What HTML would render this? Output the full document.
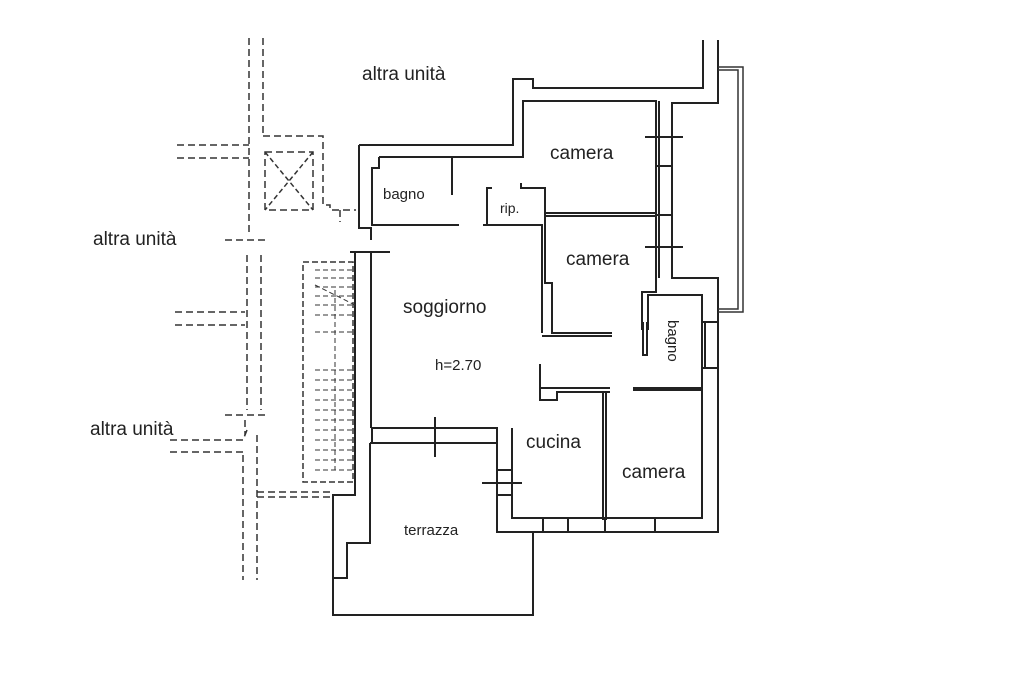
<!DOCTYPE html>
<html><head><meta charset="utf-8"><style>
html,body{margin:0;padding:0;background:#fff;}
svg{display:block;}
text{font-family:"Liberation Sans",sans-serif;fill:#222;}
</style></head><body>
<svg width="1024" height="682" viewBox="0 0 1024 682" xmlns="http://www.w3.org/2000/svg">
<g fill="none" stroke="#222" stroke-width="2" stroke-linejoin="miter">
<!-- outer top wall -->
<polyline points="359,145 513,145 513,79 533,79 533,88 703,88 703,40"/>
<polyline points="718,40 718,103 672,103 672,278 718,278 718,532 533,532"/>
<polyline points="523,158 523,101 656,101 656,278"/>
<polyline points="379,157 523,157"/>
<!-- left main wall -->
<polyline points="359,145 359,228 371,228 371,240"/>
<polyline points="355,252 371,252 371,428"/>
<polyline points="355,252 355,495 333,495 333,578 347,578 347,543 370,543 370,443"/>
<!-- terrace -->
<polyline points="333,578 333,615 533,615 533,532 497,532 497,428 372,428"/>
<polyline points="370,443 497,443"/>
<line x1="372" y1="428" x2="372" y2="443"/>
<!-- bagno -->
<polyline points="379,157 379,168 372,168 372,225 459,225"/>
<line x1="423" y1="157" x2="379" y2="157"/>
<line x1="452" y1="157" x2="452" y2="195"/>
<!-- rip -->
<polyline points="492,188 487,188 487,225 483,225 543,225"/>
<polyline points="521,183 521,188 545,188 545,225"/>
<line x1="545" y1="213" x2="656" y2="213"/>
<line x1="545" y1="216" x2="656" y2="216"/>
<!-- camera 2 left wall -->
<polyline points="542,225 542,333"/>
<polyline points="545,225 545,283 552,283 552,333 612,333"/>
<line x1="542" y1="336" x2="612" y2="336"/>
<!-- right camera windows -->
<line x1="659" y1="101" x2="659" y2="278"/>
<line x1="656" y1="166" x2="672" y2="166"/>
<line x1="656" y1="215" x2="672" y2="215"/>
<line x1="645" y1="137" x2="683" y2="137"/>
<line x1="645" y1="247" x2="683" y2="247"/>
<!-- bagno 2 -->
<polyline points="656,278 656,292 642,292 642,330"/>
<polyline points="648,330 648,295 702,295 702,388 633,388"/>
<polyline points="643,322 643,355 647,355 647,322"/>
<line x1="702" y1="322" x2="718" y2="322"/>
<line x1="702" y1="368" x2="718" y2="368"/>
<line x1="705" y1="322" x2="705" y2="368"/>
<!-- cucina / camera -->
<polyline points="540,364 540,400 557,400 557,392 610,392"/>
<line x1="540" y1="388" x2="610" y2="388"/>
<line x1="603" y1="393" x2="603" y2="520"/>
<line x1="606" y1="393" x2="606" y2="520"/>
<polyline points="633,390 702,390 702,518 512,518 512,428"/>
<line x1="496" y1="470" x2="512" y2="470"/>
<line x1="496" y1="495" x2="512" y2="495"/>
<line x1="543" y1="518" x2="543" y2="532"/>
<line x1="568" y1="518" x2="568" y2="532"/>
<line x1="605" y1="518" x2="605" y2="532"/>
<line x1="655" y1="518" x2="655" y2="532"/>
<!-- window ticks -->
<line x1="435" y1="417" x2="435" y2="457"/>
<line x1="482" y1="483" x2="522" y2="483"/>
<line x1="350" y1="252" x2="390" y2="252"/>
</g>
<!-- right balcony thin frame -->
<g fill="none" stroke="#333" stroke-width="1.5">
<polyline points="718,67 743,67 743,312 718,312"/>
<polyline points="718,70 738,70 738,309 718,309"/>
</g>
<!-- dashed neighbouring -->
<g fill="none" stroke="#333" stroke-width="1.5" stroke-dasharray="7,4">
<line x1="249" y1="38" x2="249" y2="235"/>
<line x1="263" y1="38" x2="263" y2="135"/>
<polyline points="177,145 249,145"/>
<polyline points="177,158 249,158"/>
<polyline points="263,136 323,136 323,205 330,205 330,210 356,210"/>
<rect x="265" y="152" width="48" height="58"/>
<line x1="265" y1="152" x2="313" y2="210" stroke-dasharray="5,3"/>
<line x1="313" y1="152" x2="265" y2="210" stroke-dasharray="5,3"/>
<line x1="340" y1="210" x2="340" y2="222"/>
<line x1="225" y1="240" x2="267" y2="240"/>
<line x1="247" y1="255" x2="247" y2="410"/>
<line x1="261" y1="255" x2="261" y2="410"/>
<line x1="175" y1="312" x2="245" y2="312"/>
<line x1="175" y1="325" x2="245" y2="325"/>
<line x1="225" y1="415" x2="267" y2="415"/>
<line x1="245" y1="420" x2="245" y2="435"/>
<polyline points="170,440 243,440 247,430"/>
<line x1="170" y1="452" x2="243" y2="452"/>
<line x1="243" y1="455" x2="243" y2="580"/>
<line x1="257" y1="435" x2="257" y2="580"/>
<line x1="257" y1="497" x2="333" y2="497"/>
<line x1="257" y1="492" x2="333" y2="492"/>
<!-- stairs -->
<rect x="303" y="262" width="50" height="220" stroke-dasharray="6,3"/>
</g>
<g stroke="#333" stroke-width="1" stroke-dasharray="5,3">
<line x1="315" y1="270" x2="355" y2="270"/>
<line x1="315" y1="278" x2="355" y2="278"/>
<line x1="315" y1="287" x2="355" y2="287"/>
<line x1="315" y1="296" x2="355" y2="296"/>
<line x1="315" y1="305" x2="355" y2="305"/>
<line x1="315" y1="315" x2="355" y2="315"/>
<line x1="315" y1="332" x2="355" y2="332"/>
<line x1="315" y1="370" x2="355" y2="370"/>
<line x1="315" y1="380" x2="355" y2="380"/>
<line x1="315" y1="390" x2="355" y2="390"/>
<line x1="315" y1="400" x2="355" y2="400"/>
<line x1="315" y1="410" x2="355" y2="410"/>
<line x1="315" y1="420" x2="355" y2="420"/>
<line x1="315" y1="430" x2="355" y2="430"/>
<line x1="315" y1="440" x2="355" y2="440"/>
<line x1="315" y1="450" x2="355" y2="450"/>
<line x1="315" y1="460" x2="355" y2="460"/>
<line x1="315" y1="470" x2="355" y2="470"/>
<line x1="335" y1="290" x2="335" y2="470"/>
<line x1="315" y1="285" x2="355" y2="305"/>
</g>
<text x="362" y="80" font-size="19">altra unità</text>
<text x="93" y="245" font-size="19">altra unità</text>
<text x="90" y="435" font-size="19">altra unità</text>
<text x="550" y="159" font-size="19">camera</text>
<text x="566" y="265" font-size="19">camera</text>
<text x="622" y="478" font-size="19">camera</text>
<text x="383" y="199" font-size="15">bagno</text>
<text x="500" y="213" font-size="14">rip.</text>
<text x="403" y="313" font-size="19">soggiorno</text>
<text x="435" y="370" font-size="15">h=2.70</text>
<text x="526" y="448" font-size="19">cucina</text>
<text x="404" y="535" font-size="15">terrazza</text>
<text x="0" y="0" font-size="15" transform="translate(668,320) rotate(90)">bagno</text>
</svg>
</body></html>
